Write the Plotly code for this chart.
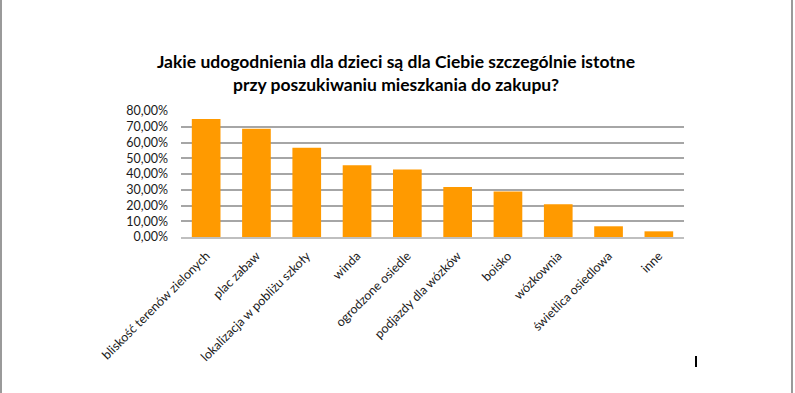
import plotly.graph_objects as go

categories = [
    "bliskość terenów zielonych",
    "plac zabaw",
    "lokalizacja w pobliżu szkoły",
    "winda",
    "ogrodzone osiedle",
    "podjazdy dla wózków",
    "boisko",
    "wózkownia",
    "świetlica osiedlowa",
    "inne",
]
values = [0.75, 0.688, 0.567, 0.456, 0.429, 0.318, 0.289, 0.208, 0.068, 0.036]
tick_vals = [0, 0.1, 0.2, 0.3, 0.4, 0.5, 0.6, 0.7, 0.8]
tick_text = ["0,00%", "10,00%", "20,00%", "30,00%", "40,00%", "50,00%", "60,00%", "70,00%", "80,00%"]

W, H = 795, 393
L, R, T, B = 181, 111, 111, 156
pw = W - L - R
ph = H - T - B

fig = go.Figure(go.Bar(
    x=categories, y=values,
    marker=dict(color="#FF9A00", line=dict(width=0)),
))

def px_to_paper_x(px):
    return (px - L) / pw

def px_to_paper_y(py):
    return (H - B - py) / ph

shapes = [
    dict(type="line", xref="paper", yref="paper",
         x0=px_to_paper_x(1), x1=px_to_paper_x(1), y0=px_to_paper_y(0), y1=px_to_paper_y(H),
         line=dict(color="#9a9a9a", width=2)),
    dict(type="line", xref="paper", yref="paper",
         x0=px_to_paper_x(792), x1=px_to_paper_x(792), y0=px_to_paper_y(0), y1=px_to_paper_y(H),
         line=dict(color="#9a9a9a", width=2)),
    dict(type="line", xref="paper", yref="paper",
         x0=px_to_paper_x(696), x1=px_to_paper_x(696), y0=px_to_paper_y(356), y1=px_to_paper_y(367),
         line=dict(color="#000000", width=2)),
]

fig.update_layout(
    width=W, height=H,
    margin=dict(l=L, r=R, t=T, b=B, autoexpand=False),
    paper_bgcolor="white", plot_bgcolor="white",
    bargap=0.43,
    showlegend=False,
    font=dict(family="Lato, 'Open Sans', sans-serif", color="#1a1a1a", size=12),
    title=dict(
        text="<b>Jakie udogodnienia dla dzieci są dla Ciebie szczególnie istotne<br>przy poszukiwaniu mieszkania do zakupu?</b>",
        x=396 / W, xref="container", xanchor="center",
        y=1 - 68 / H, yanchor="top", yref="container",
        font=dict(family="Lato, sans-serif", size=17.5, color="#000000"),
    ),
    xaxis=dict(
        tickangle=-45, showgrid=False, showline=True, linecolor="#bfbfbf", linewidth=1.5,
        ticks="", tickfont=dict(size=12.5, color="#1a1a1a"), ticklabelstandoff=5,
    ),
    yaxis=dict(
        range=[0, 0.8], tickvals=tick_vals, ticktext=tick_text,
        showgrid=True, gridcolor="#a6a6a6", gridwidth=1.5, zeroline=False,
        showline=False, ticks="", tickfont=dict(size=12.5, color="#1a1a1a"),
        ticklabelstandoff=12,
    ),
    shapes=shapes,
)

fig.write_html(
    "out.html",
    config={"displayModeBar": False},
    post_script="document.body.style.margin='0';document.body.style.overflow='hidden';",
)
